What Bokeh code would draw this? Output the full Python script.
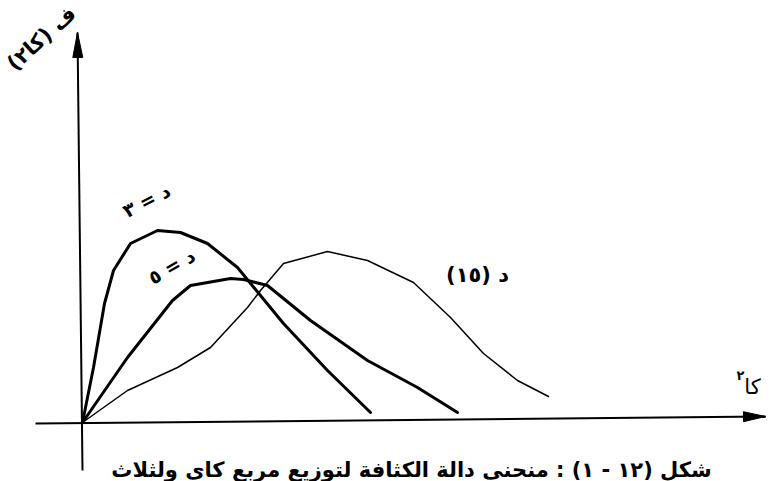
import math
from bokeh.plotting import figure
from bokeh.models import Range1d, Label
from bokeh.embed import file_html
from bokeh.resources import INLINE

# ---- data: (chi-square value, density) ----
x_d3 = [0, 0.55, 1.1, 1.55, 2.4, 3.75, 4.9, 6.25, 7.75, 10.05, 12.25, 14.4]
y_d3 = [0, 0.055, 0.119, 0.152, 0.179, 0.192, 0.190, 0.179, 0.155, 0.099, 0.052, 0.010]

x_d5 = [0, 2.25, 4.5, 5.4, 7.4, 8.05, 9.25, 11.4, 14.25, 16.75, 18.75]
y_d5 = [0, 0.065, 0.122, 0.137, 0.144, 0.143, 0.137, 0.102, 0.062, 0.035, 0.010]

x_d15 = [0, 2.25, 4.75, 6.4, 8.25, 8.9, 10.05, 12.25, 14.25, 16.55, 18.4, 20.05, 21.75, 23.3]
y_d15 = [0, 0.032, 0.055, 0.075, 0.115, 0.132, 0.159, 0.171, 0.162, 0.140, 0.105, 0.069, 0.042, 0.026]

label_d3 = "د = ٣"
label_d5 = "د = ٥"
label_d15 = "د (١٥)"
x_title = "كا"
x_title_sup = "٢"
y_title = "ف (كا٢)"
caption = "شكل (١٢ - ١) : منحنى دالة الكثافة لتوزيع مربع كاي ولثلاث"

FONT = "DejaVu Sans"

# ---- figure (Bokeh's page has no body margin) ----
W, H = 778, 481
X0, X1 = -4.1, 34.8
Y0, Y1 = -0.059, 0.422
p = figure(width=W, height=H, x_range=Range1d(X0, X1), y_range=Range1d(Y0, Y1),
           output_backend="svg", toolbar_location=None, min_border=0)
p.axis.visible = False
p.grid.visible = False
p.outline_line_color = None
p.background_fill_color = "white"
p.border_fill_color = "white"

sx = W / (X1 - X0)
sy = H / (Y1 - Y0)

def arrow(xs, ys, xe, ye, width=2, head_len=22, head_half=5):
    p.line([xs, xe], [ys, ye], line_color="black", line_width=width)
    dx = (xe - xs) * sx
    dy = (ye - ys) * sy
    L = math.hypot(dx, dy)
    ux, uy = dx / L, dy / L
    nx, ny = -uy, ux
    bx = -ux * head_len
    by = -uy * head_len
    hx = [xe, xe + (bx + nx * head_half) / sx, xe + (bx - nx * head_half) / sx]
    hy = [ye, ye + (by + ny * head_half) / sy, ye + (by - ny * head_half) / sy]
    p.patch(hx, hy, fill_color="black", line_color="black")

# axes (drawn as arrows, slightly tilted like the scan)
arrow(-2.35, -0.001, 34.15, 0.006)
arrow(0.0, -0.048, -0.25, 0.390, head_len=25, head_half=5)

# curves
p.line(x_d3, y_d3, line_color="black", line_width=3, line_join="round", line_cap="round")
p.line(x_d5, y_d5, line_color="black", line_width=3, line_join="round", line_cap="round")
p.line(x_d15, y_d15, line_color="black", line_width=1.5, line_join="round", line_cap="round")

def lab(x, y, t, size, angle=0.0, bold=True, align="center", baseline="middle"):
    p.add_layout(Label(x=x, y=y, text=t, text_font=FONT, text_font_size=f"{size}px",
                       text_font_style="bold" if bold else "normal", angle=angle,
                       angle_units="deg", text_align=align, text_baseline=baseline,
                       text_color="black"))

lab(3.2, 0.222, label_d3, 19, angle=27)
lab(4.45, 0.156, label_d5, 19, angle=30)
lab(19.75, 0.148, label_d15, 21)
lab(-2.05, 0.384, y_title, 21, angle=42)
lab(33.5, 0.036, x_title, 21, bold=False)
lab(32.9, 0.047, x_title_sup, 13)
lab(16.45, -0.047, caption, 21, baseline="alphabetic")

open("out.html", "w").write(file_html(p, INLINE))
